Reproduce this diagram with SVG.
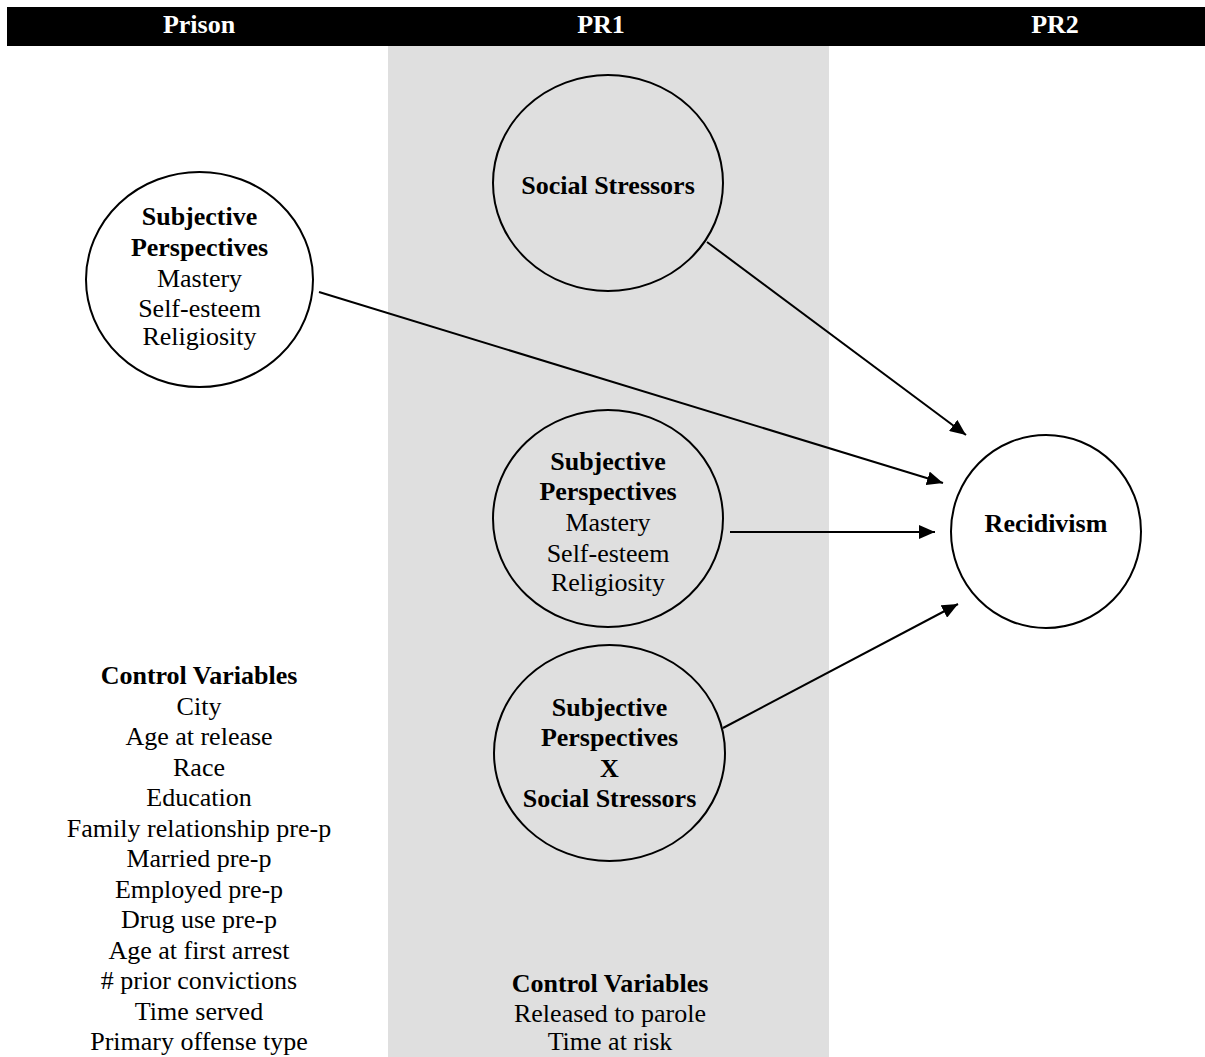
<svg xmlns="http://www.w3.org/2000/svg" width="1205" height="1057" viewBox="0 0 1205 1057">
<style>
text{font-family:"Liberation Serif","Times New Roman",serif;font-size:26px;text-anchor:middle;fill:#000}
.b{font-weight:bold}
.h{font-weight:bold;fill:#fff}
.node{fill:none;stroke:#000;stroke-width:2}
.wnode{fill:#fff;stroke:#000;stroke-width:2}
.edge{stroke:#000;stroke-width:2;fill:none;marker-end:url(#arr)}
</style>
<defs>
<marker id="arr" viewBox="0 0 16 14" refX="16" refY="7" markerWidth="16" markerHeight="14" markerUnits="userSpaceOnUse" orient="auto">
<path d="M0,0 L16,7 L0,14 z" fill="#000"/>
</marker>
</defs>
<rect width="1205" height="1057" fill="#fff"/>
<rect id="pr1-column" x="388" y="46" width="441" height="1011" fill="#dfdfdf"/>
<g id="header">
<rect x="7" y="7" width="1198" height="39" fill="#000"/>
<text class="h" x="199" y="33">Prison</text>
<text class="h" x="601" y="33">PR1</text>
<text class="h" x="1055" y="33">PR2</text>
</g>
<g id="connectors">
<line class="edge" x1="707" y1="242" x2="966" y2="435"/>
<line class="edge" x1="319" y1="292" x2="943" y2="483"/>
<line class="edge" x1="730" y1="532" x2="935" y2="532"/>
<line class="edge" x1="723" y1="728" x2="958" y2="604"/>
</g>
<g id="social-stressors">
<ellipse class="node" cx="608" cy="183" rx="115" ry="108"/>
<text class="b" x="608" y="194">Social Stressors</text>
</g>
<g id="subjective-prison">
<ellipse class="wnode" cx="199.5" cy="279.5" rx="113.5" ry="107.5"/>
<text class="b" x="199.5" y="225">Subjective</text>
<text class="b" x="199.5" y="256">Perspectives</text>
<text x="199.5" y="287">Mastery</text>
<text x="199.5" y="317">Self-esteem</text>
<text x="199.5" y="345">Religiosity</text>
</g>
<g id="subjective-pr1">
<ellipse class="node" cx="608" cy="518.5" rx="115" ry="108.5"/>
<text class="b" x="608" y="470">Subjective</text>
<text class="b" x="608" y="500">Perspectives</text>
<text x="608" y="531">Mastery</text>
<text x="608" y="562">Self-esteem</text>
<text x="608" y="591">Religiosity</text>
</g>
<g id="interaction">
<ellipse class="node" cx="609.5" cy="753" rx="115.5" ry="108"/>
<text class="b" x="609.5" y="716">Subjective</text>
<text class="b" x="609.5" y="746">Perspectives</text>
<text class="b" x="609.5" y="777">X</text>
<text class="b" x="609.5" y="807">Social Stressors</text>
</g>
<g id="recidivism">
<ellipse class="wnode" cx="1046" cy="531.5" rx="95" ry="96.5"/>
<text class="b" x="1046" y="532">Recidivism</text>
</g>
<g id="control-prison">
<text class="b" x="199" y="684">Control Variables</text>
<text x="199" y="714.5">City</text>
<text x="199" y="745">Age at release</text>
<text x="199" y="775.5">Race</text>
<text x="199" y="806">Education</text>
<text x="199" y="836.5">Family relationship pre-p</text>
<text x="199" y="867">Married pre-p</text>
<text x="199" y="897.5">Employed pre-p</text>
<text x="199" y="928">Drug use pre-p</text>
<text x="199" y="958.5">Age at first arrest</text>
<text x="199" y="989"># prior convictions</text>
<text x="199" y="1019.5">Time served</text>
<text x="199" y="1050">Primary offense type</text>
</g>
<g id="control-pr1">
<text class="b" x="610" y="992">Control Variables</text>
<text x="610" y="1022">Released to parole</text>
<text x="610" y="1050">Time at risk</text>
</g>
</svg>
